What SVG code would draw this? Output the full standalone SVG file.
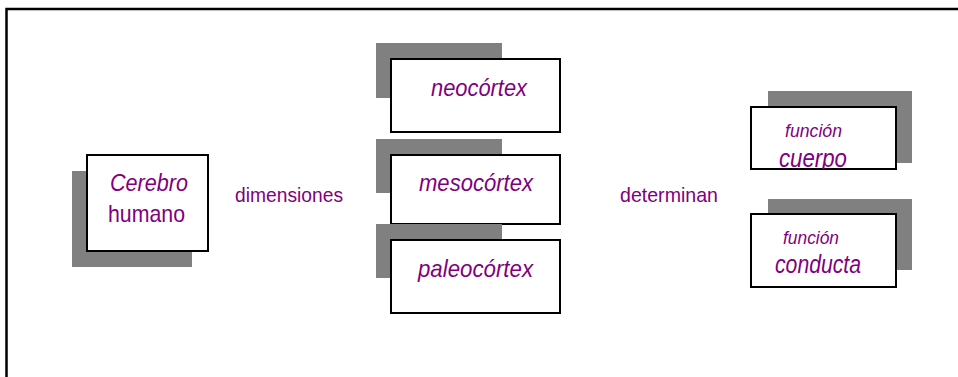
<svg xmlns="http://www.w3.org/2000/svg" width="958" height="377" viewBox="0 0 958 377">
<style>
.sh{fill:#808080}
.bx{fill:#fff;stroke:#000;stroke-width:2}
text{font-family:"Liberation Sans",Arial,sans-serif;fill:#800080;text-anchor:middle}
.it{font-style:italic}
</style>
<rect width="958" height="377" fill="#fff"/>
<path d="M6.5 377V9H958" fill="none" stroke="#000" stroke-width="2.5"/>
<defs><clipPath id="c1"><rect x="751" y="107" width="146" height="62"/></clipPath></defs>
<g id="cerebro">
<rect class="sh" x="72" y="171" width="120" height="96"/>
<rect class="bx" x="87" y="155" width="121" height="96"/>
<text class="it" x="149" y="191" font-size="24" textLength="78" lengthAdjust="spacingAndGlyphs">Cerebro</text>
<text x="146.5" y="222" font-size="24" textLength="77" lengthAdjust="spacingAndGlyphs">humano</text>
</g>
<g id="neocortex">
<rect class="sh" x="376" y="43" width="126" height="55"/>
<rect class="bx" x="391" y="59" width="169" height="73"/>
<text class="it" x="479" y="96" font-size="24" textLength="96" lengthAdjust="spacingAndGlyphs">neocórtex</text>
</g>
<g id="mesocortex">
<rect class="sh" x="376" y="139" width="126" height="54"/>
<rect class="bx" x="391" y="155" width="169" height="69"/>
<text class="it" x="476" y="191" font-size="24" textLength="114" lengthAdjust="spacingAndGlyphs">mesocórtex</text>
</g>
<g id="paleocortex">
<rect class="sh" x="376" y="224" width="126" height="54"/>
<rect class="bx" x="391" y="240" width="169" height="73"/>
<text class="it" x="475.5" y="277" font-size="24" textLength="115" lengthAdjust="spacingAndGlyphs">paleocórtex</text>
</g>
<g id="cuerpo">
<rect class="sh" x="768" y="91" width="144" height="72"/>
<rect class="bx" x="751" y="107" width="145" height="62"/>
<g clip-path="url(#c1)">
<text class="it" x="813.5" y="137" font-size="18" textLength="57" lengthAdjust="spacingAndGlyphs">función</text>
<text class="it" x="813" y="167" font-size="25" textLength="68" lengthAdjust="spacingAndGlyphs">cuerpo</text>
</g>
</g>
<g id="conducta">
<rect class="sh" x="768" y="199" width="144" height="71"/>
<rect class="bx" x="751" y="214" width="145" height="73"/>
<text class="it" x="811" y="244" font-size="18" textLength="56" lengthAdjust="spacingAndGlyphs">función</text>
<text class="it" x="818" y="273" font-size="25" textLength="86" lengthAdjust="spacingAndGlyphs">conducta</text>
</g>
<g id="connectors">
<text x="289" y="202" font-size="21" textLength="108" lengthAdjust="spacingAndGlyphs">dimensiones</text>
<text x="669" y="202" font-size="21" textLength="98" lengthAdjust="spacingAndGlyphs">determinan</text>
</g>
</svg>
